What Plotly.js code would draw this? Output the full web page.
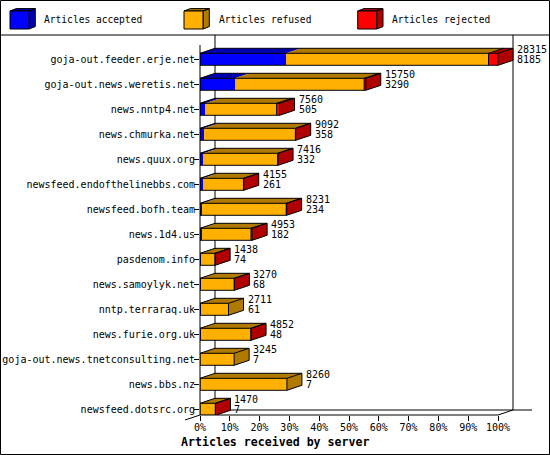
<!DOCTYPE html>
<html><head><meta charset="utf-8">
<script src="https://cdn.plot.ly/plotly-3.0.1.min.js"></script>
<style>html,body{margin:0;padding:0;background:#fff}</style>
</head><body><div id="chart" style="width:550px;height:455px"></div>
<script>
// ---- data ----
const servers = ["goja-out.feeder.erje.net","goja-out.news.weretis.net","news.nntp4.net","news.chmurka.net","news.quux.org","newsfeed.endofthelinebbs.com","newsfeed.bofh.team","news.1d4.us","pasdenom.info","news.samoylyk.net","nntp.terraraq.uk","news.furie.org.uk","goja-out.news.tnetconsulting.net","news.bbs.nz","newsfeed.dotsrc.org"];
const offered  = [28315,15750,7560,9092,7416,4155,8231,4953,1438,3270,2711,4852,3245,8260,1470];
const accepted = [8185,3290,505,358,332,261,234,182,74,68,61,48,7,7,7];
const refused  = [19230,12310,6775,8704,7054,3869,7957,4661,1349,3182,2650,4784,3238,8253,1448];
const rejected = [900,150,280,30,30,25,40,110,15,20,0,20,0,0,15];
const seriesNames = ["Articles accepted","Articles refused","Articles rejected"];
const tickPercents = [0,10,20,30,40,50,60,70,80,90,100];
const xTitle = "Articles received by server";

// ---- geometry / style ----
const W=550,H=455,L=200,R=18,T=35,B=40;
const pw=W-L-R, ph=H-T-B;
const pxPerPct=2.98, rowPx=25, firstRowPx=59.3;
const xMax=pw/pxPerPct;
const yTop=-(firstRowPx-T)/rowPx, yBottom=(H-B-firstRowPx)/rowPx;
const DX=15/pxPerPct, DY=5/rowPx, HALF=0.24;
const front=["#0000ff","#ffb000","#ff0000"];
const dark =["#0000b0","#b07900","#b00000"];
const FONT="DejaVu Sans Mono";
const maxTotal=Math.max(...offered);
const pct=v=>v/maxTotal*100;
const idx=servers.map((_,i)=>i);
const px=x=>(x-L)/pw, py=y=>(H-B-y)/ph;

const segs=[accepted,refused,rejected];
const traces=segs.map((arr,k)=>({
  type:"bar",orientation:"h",y:idx,x:arr.map(pct),width:2*HALF,
  marker:{color:front[k],line:{width:0}},name:seriesNames[k],hoverinfo:"skip",showlegend:false
}));

const shapes=[];
const ln=(x0,y0,x1,y1,layer)=>shapes.push({type:"line",xref:"paper",yref:"paper",x0:px(x0),y0:py(y0),x1:px(x1),y1:py(y1),line:{color:"#000",width:1},layer:layer||"above"});
// frame
shapes.push({type:"rect",xref:"paper",yref:"paper",x0:px(0.5),y0:py(0.5),x1:px(549.5),y1:py(454.5),line:{color:"#000",width:1},fillcolor:"rgba(0,0,0,0)",layer:"below"});
ln(0,35,550,35,"below");
ln(215,35,215,410,"below");
ln(513,35,513,410,"below");
ln(215,410,532,410,"below");
ln(200,45,200,415);
ln(200,415,498,415);
ln(498,415,513,410);
ln(185,420,200,415);

// 3D bars: top faces, side face, outlines
idx.forEach(i=>{
  const yt=i-HALF, yb=i+HALF;
  let x0=0, lastK=0;
  segs.forEach((arr,k)=>{
    const w=pct(arr[i]);
    if(arr[i]>0){
      const x1=x0+w;
      shapes.push({type:"path",xref:"x",yref:"y",layer:"above",
        path:`M${x0},${yt}L${x1},${yt}L${x1+DX},${yt-DY}L${x0+DX},${yt-DY}Z`,
        fillcolor:dark[k],line:{width:0}});
      lastK=k;
      x0=x1;
    }
  });
  const x3=x0;
  shapes.push({type:"path",xref:"x",yref:"y",layer:"above",
    path:`M${x3},${yt}L${x3},${yb}L${x3+DX},${yb-DY}L${x3+DX},${yt-DY}Z`,
    fillcolor:dark[lastK],line:{width:0}});
  if(rejected[i]>0){
    const xb=pct(accepted[i]+refused[i]);
    shapes.push({type:"path",xref:"x",yref:"y",layer:"above",
      path:`M${xb},${yb}L${xb},${yt}L${xb+DX},${yt-DY}`,line:{color:"#000",width:1},fillcolor:"rgba(0,0,0,0)"});
  }
  shapes.push({type:"path",xref:"x",yref:"y",layer:"above",
    path:`M0,${yb}L0,${yt}L${x3},${yt}L${x3},${yb}Z M0,${yt}L${DX},${yt-DY}L${x3+DX},${yt-DY}L${x3+DX},${yb-DY}L${x3},${yb} M${x3},${yt}L${x3+DX},${yt-DY}`,
    line:{color:"#000",width:1},fillcolor:"rgba(0,0,0,0)"});
});

const annotations=[];
idx.forEach(i=>{
  const xe=pct(accepted[i]+refused[i]+rejected[i])+DX;
  annotations.push({xref:"x",yref:"y",x:xe,y:i-0.4,text:String(offered[i]),showarrow:false,xanchor:"left",yanchor:"middle",xshift:2,font:{family:FONT,size:10,color:"#000"}});
  annotations.push({xref:"x",yref:"y",x:xe,y:i+0.01,text:String(accepted[i]),showarrow:false,xanchor:"left",yanchor:"middle",xshift:2,font:{family:FONT,size:10,color:"#000"}});
});
annotations.push({xref:"paper",yref:"paper",x:px(179),y:py(442),text:"<b>"+xTitle+"</b>",showarrow:false,xanchor:"left",yanchor:"middle",font:{family:FONT,size:11.6,color:"#000"}});

// legend
const legX=[10,184,357.7], legTxt=[42,216.5,389.5];
seriesNames.forEach((n,k)=>{
  const x0=legX[k], x1=x0+19, y0=11, y1=29, dx=6.3, dy=2.4;
  shapes.push({type:"path",xref:"paper",yref:"paper",layer:"above",
    path:`M${px(x1)},${py(y0)}L${px(x1)},${py(y1)}L${px(x1+dx)},${py(y1-dy)}L${px(x1+dx)},${py(y0-dy)}Z M${px(x0)},${py(y0)}L${px(x1)},${py(y0)}L${px(x1+dx)},${py(y0-dy)}L${px(x0+dx)},${py(y0-dy)}Z`,
    fillcolor:dark[k],line:{color:"#000",width:1}});
  shapes.push({type:"rect",xref:"paper",yref:"paper",layer:"above",x0:px(x0),x1:px(x1),y0:py(y0),y1:py(y1),fillcolor:front[k],line:{color:"#000",width:1}});
  annotations.push({xref:"paper",yref:"paper",x:px(legTxt[k]),y:py(20),text:n,showarrow:false,xanchor:"left",yanchor:"middle",font:{family:FONT,size:9.6,color:"#000"}});
});

const layout={
  width:W,height:H,margin:{l:L,r:R,t:T,b:B,pad:0},
  paper_bgcolor:"#fff",plot_bgcolor:"rgba(0,0,0,0)",
  barmode:"stack",bargap:0,showlegend:false,
  xaxis:{range:[0,xMax],tickvals:tickPercents,ticktext:tickPercents.map(v=>v+"%"),ticks:"outside",ticklen:5,tickcolor:"#000",tickwidth:1,ticklabelstandoff:-2,
    showgrid:false,zeroline:false,showline:false,automargin:false,fixedrange:true,tickfont:{family:FONT,size:10,color:"#000"}},
  yaxis:{range:[yBottom,yTop],tickvals:idx,ticktext:servers,ticks:"outside",ticklen:5,tickcolor:"#000",tickwidth:1,ticklabelstandoff:-3,
    showgrid:false,zeroline:false,showline:false,automargin:false,fixedrange:true,tickfont:{family:FONT,size:10,color:"#000"}},
  shapes:shapes,annotations:annotations
};
Plotly.newPlot("chart",traces,layout,{staticPlot:true,displayModeBar:false});
</script></body></html>
